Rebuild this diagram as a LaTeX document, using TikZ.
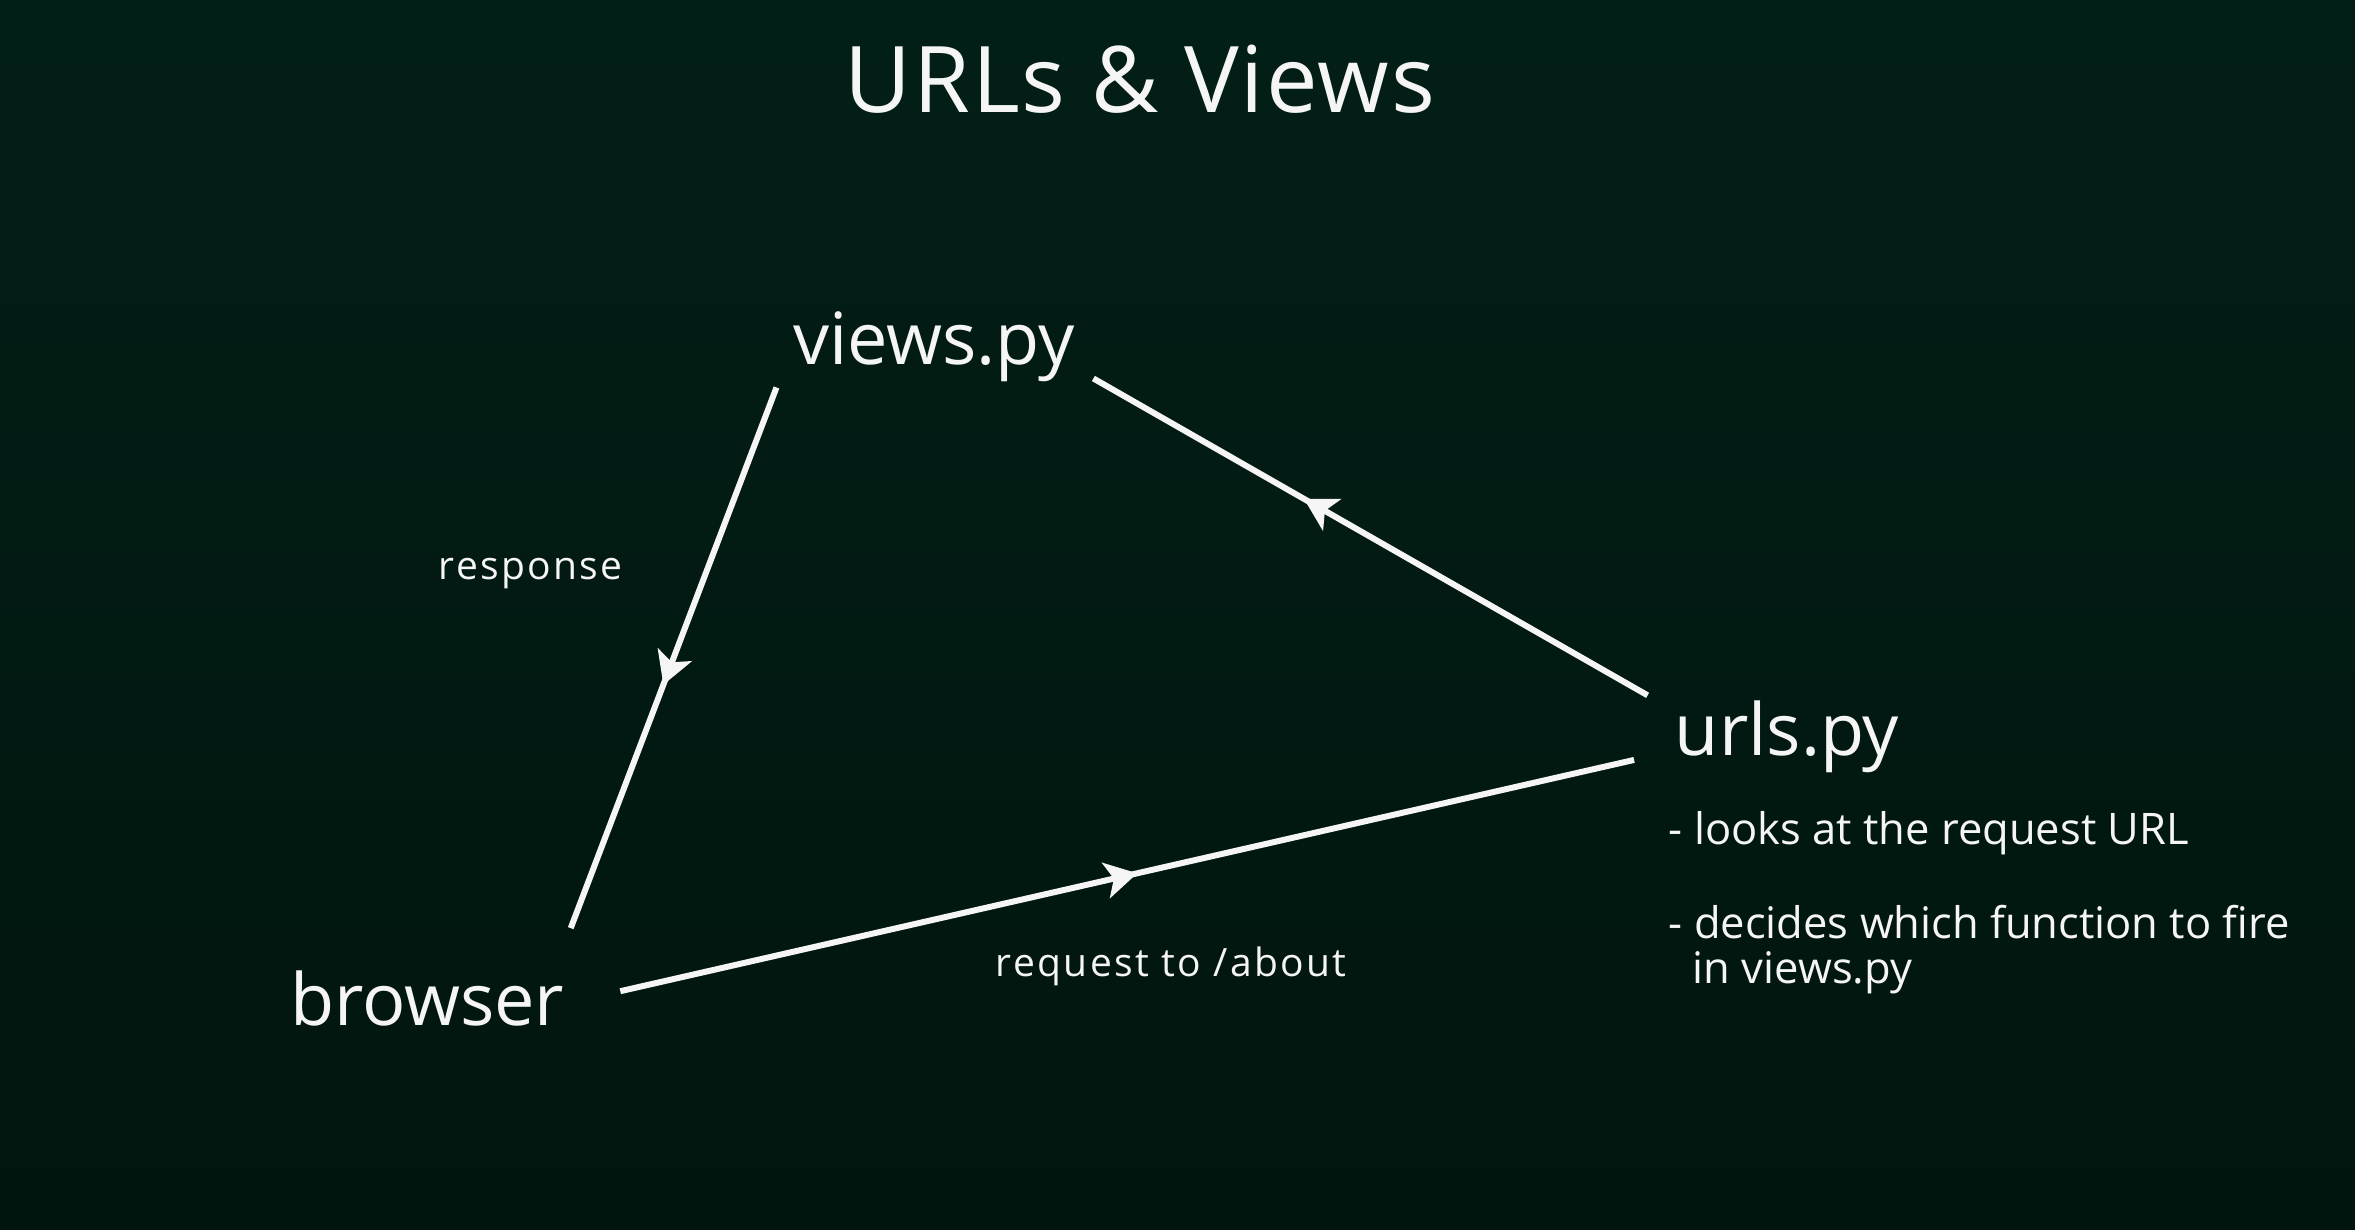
\documentclass[tikz,border=0pt]{standalone}
\usepackage{fontspec}
\setmainfont{Open Sans}
\usetikzlibrary{decorations.markings,arrows.meta}
\definecolor{bgtop}{HTML}{021F17}
\definecolor{bgbot}{HTML}{01150E}
\definecolor{ink}{HTML}{F5F5F5}
\begin{document}
\begin{tikzpicture}[x=1.50191pt,y=-1.5018pt,
  lbl/.style={text=ink,inner sep=0pt,anchor=base west},
  titlefont/.style={font=\fontsize{92}{100}\selectfont\addfontfeature{LetterSpace=2}},
  bigfont/.style={font=\fontsize{72}{80}\selectfont},
  smallfont/.style={font=\fontsize{39}{44}\selectfont\addfontfeature{LetterSpace=6}},
  notefont/.style={font=\fontsize{43.5}{48}\selectfont},
  flow/.style={draw=ink,line width=6pt,postaction=decorate,
    decoration={markings,mark=at position #1 with {\arrow{Stealth[length=32pt,width=36pt,inset=8pt]}}}}]
\shade[top color=bgtop,bottom color=bgbot] (0,0) rectangle (1568,819);
\useasboundingbox (0,0) rectangle (1568,819);
% nodes
\node[lbl,titlefont,anchor=base] (title) at (759,75) {URLs \& Views};
\node[lbl,bigfont] (views) at (528,243) {views.py};
\node[lbl,bigfont] (urls) at (1115,503) {urls.py};
\node[lbl,bigfont] (browser) at (193,683) {browser};
\node[lbl,smallfont] (response) at (292,386) {response};
\node[lbl,smallfont] (request) at (663,650) {request to /about};
\node[lbl,notefont] (note1) at (1111,562) {- looks at the request URL};
\node[lbl,notefont] (note2) at (1111,625) {- decides which function to fire};
\node[lbl,notefont] (note3) at (1127,655) {in views.py};
% connector ends
\coordinate (vA) at (517,258);
\coordinate (bA) at (380,618);
\coordinate (vB) at (728,252);
\coordinate (uB) at (1097,463);
\coordinate (bC) at (413,660);
\coordinate (uC) at (1088,506);
% connectors
\draw[flow=0.55] (vA) -- (bA);
\draw[flow=0.62] (uB) -- (vB);
\draw[flow=0.51] (bC) -- (uC);
\end{tikzpicture}
\end{document}
